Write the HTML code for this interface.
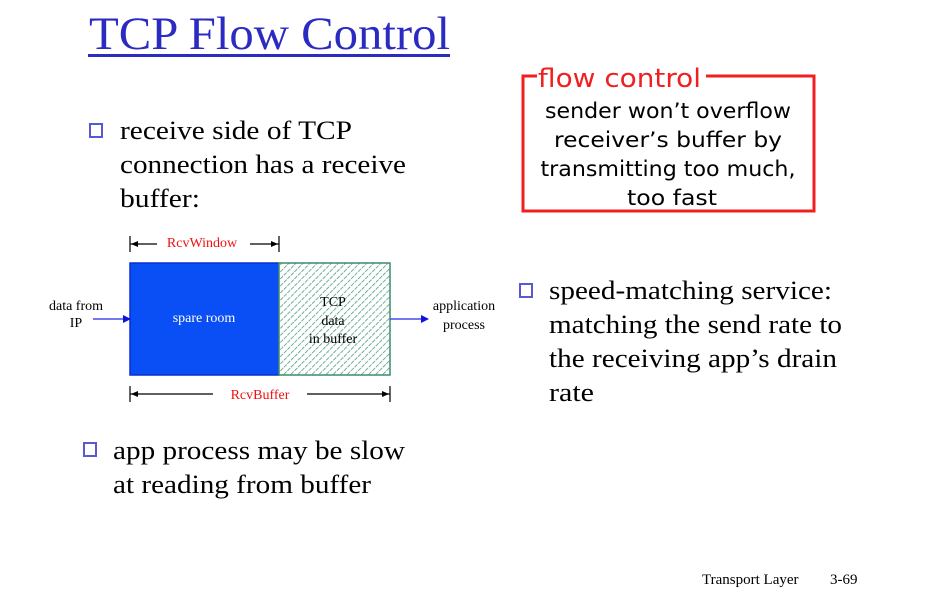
<!DOCTYPE html>
<html><head><meta charset="utf-8"><style>
html,body{margin:0;padding:0;background:#fff;}
svg{display:block;}
.s{font-family:"Liberation Serif",serif;}
.c{font-family:"Comic Sans MS","DejaVu Sans",sans-serif;}
</style></head><body>
<svg width="952" height="601" viewBox="0 0 952 601" xmlns="http://www.w3.org/2000/svg">
<defs>
<pattern id="h" width="5" height="5" patternUnits="userSpaceOnUse" patternTransform="rotate(45)">
<rect width="5" height="5" fill="#fff"/>
<line x1="0" y1="0" x2="0" y2="5" stroke="#4f9c7c" stroke-width="1.6" stroke-dasharray="4 1.5"/>
</pattern>
</defs>
<text class="s" x="89" y="49" font-size="47" fill="#2b2bc2" textLength="361" lengthAdjust="spacingAndGlyphs">TCP Flow Control</text>
<rect x="88" y="54" width="362" height="3" fill="#2b2bc2"/>

<g class="s" font-size="26" fill="#000">
<rect x="90" y="124" width="12" height="13" fill="none" stroke="#5a5ad0" stroke-width="2"/>
<text x="120" y="139" textLength="232" lengthAdjust="spacingAndGlyphs">receive side of TCP</text>
<text x="120" y="173" textLength="286" lengthAdjust="spacingAndGlyphs">connection has a receive</text>
<text x="120" y="207" textLength="80" lengthAdjust="spacingAndGlyphs">buffer:</text>
<rect x="84" y="443" width="12" height="13" fill="none" stroke="#5a5ad0" stroke-width="2"/>
<text x="113" y="459" textLength="292" lengthAdjust="spacingAndGlyphs">app process may be slow</text>
<text x="113" y="493" textLength="258" lengthAdjust="spacingAndGlyphs">at reading from buffer</text>
<rect x="520" y="284" width="12" height="13" fill="none" stroke="#5a5ad0" stroke-width="2"/>
<text x="549" y="299" textLength="283" lengthAdjust="spacingAndGlyphs">speed-matching service:</text>
<text x="549" y="333" textLength="293" lengthAdjust="spacingAndGlyphs">matching the send rate to</text>
<text x="549" y="367" textLength="288" lengthAdjust="spacingAndGlyphs">the receiving app’s drain</text>
<text x="549" y="401" textLength="45" lengthAdjust="spacingAndGlyphs">rate</text>
</g>

<path d="M537 76 H523 V211 H814 V76 H706" fill="none" stroke="#f02020" stroke-width="3"/>
<text class="c" x="538" y="87" font-size="26" fill="#f02020" textLength="163" lengthAdjust="spacingAndGlyphs">flow control</text>
<g class="c" font-size="21" fill="#000" text-anchor="middle">
<text x="668" y="118" textLength="246" lengthAdjust="spacingAndGlyphs">sender won’t overflow</text>
<text x="668" y="147" textLength="228" lengthAdjust="spacingAndGlyphs">receiver’s buffer by</text>
<text x="668" y="176" textLength="255" lengthAdjust="spacingAndGlyphs">transmitting too much,</text>
<text x="672" y="205" textLength="90" lengthAdjust="spacingAndGlyphs">too fast</text>
</g>

<rect x="130" y="263" width="149" height="112" fill="#0a4ff5" stroke="#0a2fd0" stroke-width="1.5"/>
<rect x="279" y="263" width="111" height="112" fill="url(#h)" stroke="#3c8c6c" stroke-width="1.5"/>
<g class="s" font-size="14">
<text x="204" y="322" fill="#fff" text-anchor="middle">spare room</text>
<text x="333" y="306" fill="#000" text-anchor="middle">TCP</text>
<text x="333" y="325" fill="#000" text-anchor="middle">data</text>
<text x="333" y="343" fill="#000" text-anchor="middle">in buffer</text>
<text x="76" y="310" fill="#000" text-anchor="middle">data from</text>
<text x="76" y="327" fill="#000" text-anchor="middle">IP</text>
<text x="464" y="310" fill="#000" text-anchor="middle">application</text>
<text x="464" y="329" fill="#000" text-anchor="middle">process</text>
<text x="202" y="247" fill="#f01010" text-anchor="middle">RcvWindow</text>
<text x="260" y="399" fill="#f01010" text-anchor="middle">RcvBuffer</text>
<text x="702" y="584" fill="#000" font-size="15">Transport Layer</text>
<text x="830" y="584" fill="#000" font-size="15">3-69</text>
</g>
<line x1="93" y1="319" x2="124" y2="319" stroke="#4a4af0" stroke-width="1.5"/>
<polygon points="131,319 123,315 123,323" fill="#1010e0"/>
<line x1="390" y1="319" x2="422" y2="319" stroke="#4a4af0" stroke-width="1.5"/>
<polygon points="429,319 421,315 421,323" fill="#1010e0"/>
<g stroke="#000" stroke-width="1.2">
<line x1="130" y1="236" x2="130" y2="252"/><line x1="279" y1="236" x2="279" y2="252"/>
<line x1="130" y1="244" x2="157" y2="244"/><line x1="250" y1="244" x2="279" y2="244"/>
<line x1="130" y1="386" x2="130" y2="402"/><line x1="390" y1="386" x2="390" y2="402"/>
<line x1="130" y1="394" x2="213" y2="394"/><line x1="307" y1="394" x2="390" y2="394"/>
</g>
<g fill="#000">
<polygon points="131,244 138,241 138,247"/><polygon points="278,244 271,241 271,247"/>
<polygon points="131,394 138,391 138,397"/><polygon points="389,394 382,391 382,397"/>
</g>
</svg>
</body></html>
